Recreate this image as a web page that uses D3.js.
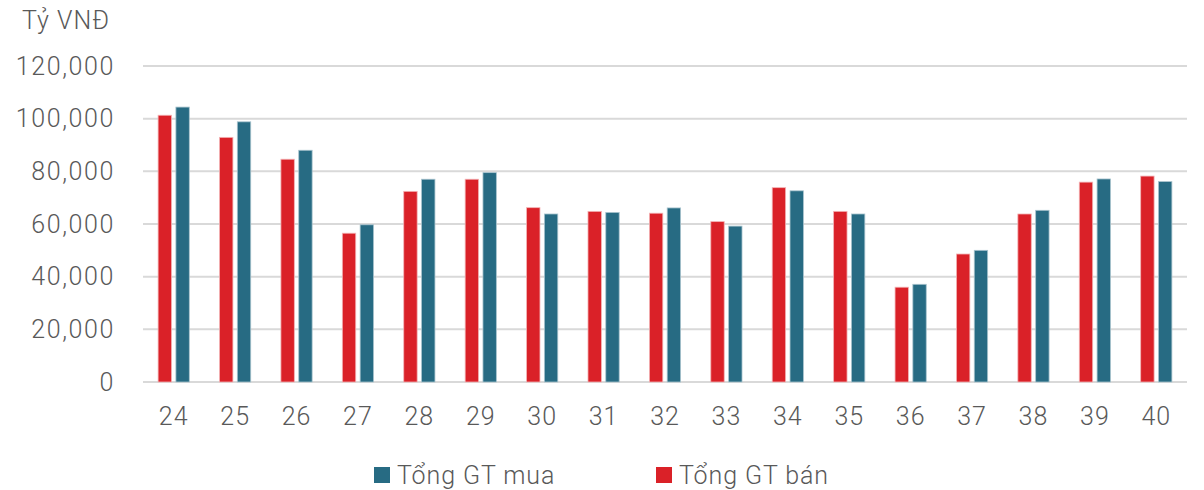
<!DOCTYPE html>
<html>
<head>
<meta charset="utf-8">
<script src="https://cdn.jsdelivr.net/npm/d3@7"></script>
<style>
  body { margin: 0; background: #fff; }
  text { font-family: Roboto, "Noto Sans", sans-serif; fill: #595959; }
</style>
</head>
<body>
<div id="chart"></div>
<script>
var weeks = ["24", "25", "26", "27", "28", "29", "30", "31", "32", "33", "34", "35", "36", "37", "38", "39", "40"];
var sellValues = [101300, 92900, 84600, 56500, 72400, 77000, 66200, 64800, 64100, 60900, 73800, 64800, 36000, 48600, 63800, 75900, 78200];
var buyValues = [104400, 98800, 88000, 59700, 77000, 79500, 63800, 64400, 66100, 59200, 72600, 63800, 37100, 50000, 65200, 77100, 76100];
var yTicks = [0, 20000, 40000, 60000, 80000, 100000, 120000];

var wide = 1204;
var high = 490;
var plotLeft = 143;
var plotRight = 1187;
var plotTop = 66;
var plotBottom = 382;

var red = "#DA2128";
var blue = "#276B83";

var svg = d3.select("#chart")
  .append("svg")
  .attr("width", wide)
  .attr("height", high);

var xScale = d3.scaleBand()
  .domain(weeks)
  .range([plotLeft, plotRight]);

var yScale = d3.scaleLinear()
  .domain([0, 120000])
  .range([plotBottom, plotTop]);

// gridlines
svg.append("g")
  .selectAll("line")
  .data(yTicks)
  .enter()
  .append("line")
  .attr("x1", plotLeft)
  .attr("x2", plotRight)
  .attr("y1", function(d) { return yScale(d); })
  .attr("y2", function(d) { return yScale(d); })
  .attr("stroke", "#D9D9D9")
  .attr("stroke-width", 2);

var yAxis = d3.axisLeft(yScale)
  .tickValues(yTicks)
  .tickFormat(d3.format(","))
  .tickSize(0)
  .tickPadding(28);

svg.append("g")
  .attr("transform", "translate(" + plotLeft + ",0)")
  .call(yAxis)
  .call(function(g) { g.select(".domain").remove(); })
  .selectAll("text")
  .attr("font-size", 25)
  .attr("font-weight", 300)
  .attr("fill", "#595959")
  .style("letter-spacing", "1.6px")
  .style("font-family", "Roboto, sans-serif");

var xAxis = d3.axisBottom(xScale)
  .tickSize(0)
  .tickPadding(25);

svg.append("g")
  .attr("transform", "translate(0," + plotBottom + ")")
  .call(xAxis)
  .call(function(g) { g.select(".domain").remove(); })
  .selectAll("text")
  .attr("font-size", 25)
  .attr("font-weight", 300)
  .attr("fill", "#595959")
  .style("letter-spacing", "1px")
  .style("font-family", "Roboto, sans-serif");

var barW = 13.4;
var offset = 8.9;

var groups = svg.append("g")
  .selectAll("g")
  .data(weeks)
  .enter()
  .append("g");

groups.append("rect")
  .attr("x", function(d) { return xScale(d) + xScale.bandwidth() / 2 - offset - barW / 2; })
  .attr("y", function(d, i) { return yScale(sellValues[i]); })
  .attr("width", barW)
  .attr("height", function(d, i) { return plotBottom - yScale(sellValues[i]); })
  .attr("fill", red)
  .attr("stroke", "#F3B3B5")
  .attr("stroke-width", 0.8);

groups.append("rect")
  .attr("x", function(d) { return xScale(d) + xScale.bandwidth() / 2 + offset - barW / 2; })
  .attr("y", function(d, i) { return yScale(buyValues[i]); })
  .attr("width", barW)
  .attr("height", function(d, i) { return plotBottom - yScale(buyValues[i]); })
  .attr("fill", blue)
  .attr("stroke", "#A9C4CE")
  .attr("stroke-width", 0.8);

// unit label
svg.append("text")
  .attr("x", 22)
  .attr("y", 29)
  .attr("font-size", 25)
  .attr("font-weight", 300)
  .style("letter-spacing", "1px")
  .text("Tỷ VNĐ");

// legend
var legend = [
  { name: "Tổng GT mua", color: blue, x: 374 },
  { name: "Tổng GT bán", color: red, x: 656 }
];

var leg = svg.append("g")
  .selectAll("g")
  .data(legend)
  .enter()
  .append("g")
  .attr("transform", function(d) { return "translate(" + d.x + ",467)"; });

leg.append("rect")
  .attr("width", 16)
  .attr("height", 16)
  .attr("fill", function(d) { return d.color; });

leg.append("text")
  .attr("x", 23)
  .attr("y", 17)
  .attr("font-size", 25)
  .attr("font-weight", 300)
  .style("letter-spacing", "0.9px")
  .text(function(d) { return d.name; });
</script>
</body>
</html>
